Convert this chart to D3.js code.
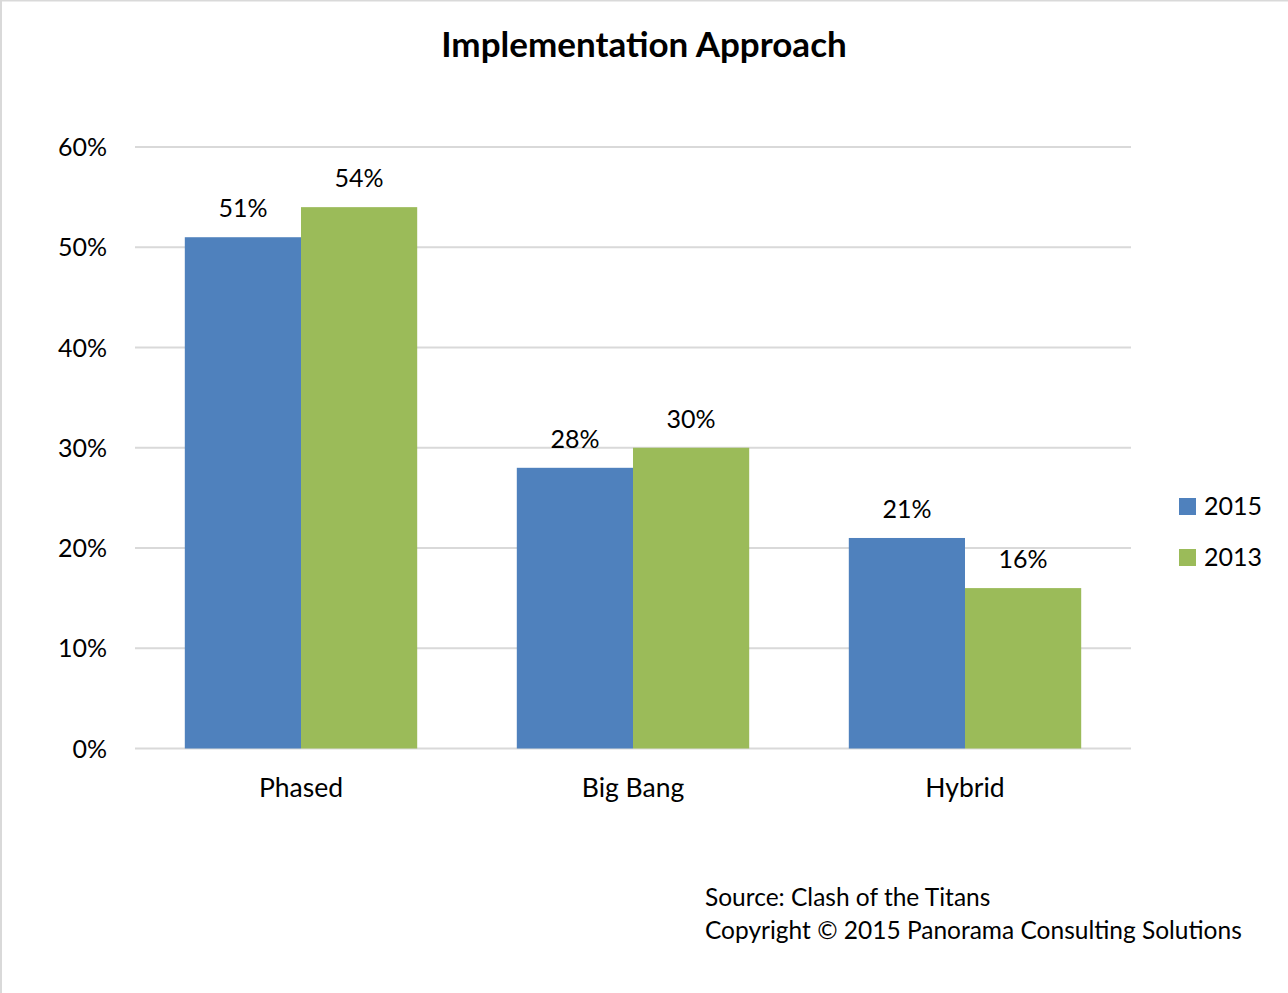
<!DOCTYPE html>
<html><head><meta charset="utf-8">
<script src="https://cdn.jsdelivr.net/npm/d3@7"></script>
<style>body{margin:0;background:#fff;}svg{display:block;}text{font-family:Lato,"Open Sans",sans-serif;fill:#000;}</style>
</head><body>
<script>
const categories = ["Phased", "Big Bang", "Hybrid"];
const seriesNames = ["2015", "2013"];
const values2015 = [0.51, 0.28, 0.21];
const values2013 = [0.54, 0.30, 0.16];
const yTicks = [0, 0.1, 0.2, 0.3, 0.4, 0.5, 0.6];
const colors = ["#4F81BD", "#9BBB59"];
const titleText = "Implementation Approach";
const sourceLines = ["Source: Clash of the Titans", "Copyright \u00A9 2015 Panorama Consulting Solutions"];

const W = 1288, H = 993;
const svg = d3.select("body").append("svg").attr("width", W).attr("height", H);

// frame lines
svg.append("line").attr("x1",0).attr("x2",W).attr("y1",0.5).attr("y2",0.5).attr("stroke","#d9d9d9").attr("stroke-width",2);
svg.append("line").attr("x1",1).attr("x2",1).attr("y1",0).attr("y2",H).attr("stroke","#d9d9d9").attr("stroke-width",2);

const x0 = d3.scaleBand().domain(categories).range([135, 1131]).paddingInner(0).paddingOuter(0);
const x1 = d3.scaleBand().domain(seriesNames).range([x0.bandwidth()*0.15, x0.bandwidth()*0.85]);
const y = d3.scaleLinear().domain([0, 0.6]).range([748.5, 147]);

// grid
svg.append("g").selectAll("line").data(yTicks).join("line")
  .attr("x1", 135).attr("x2", 1131)
  .attr("y1", d => y(d)).attr("y2", d => y(d))
  .attr("stroke", "#d9d9d9").attr("stroke-width", 2);

// y tick labels
svg.append("g").selectAll("text").data(yTicks).join("text")
  .attr("x", 107).attr("y", d => y(d) + 9)
  .attr("text-anchor", "end").attr("font-size", 25)
  .text(d => d3.format(".0%")(d));

const rows = categories.map((c, i) => ({cat: c, vals: [values2015[i], values2013[i]]}));
const groups = svg.append("g").selectAll("g").data(rows).join("g")
  .attr("transform", d => `translate(${x0(d.cat)},0)`);

groups.selectAll("rect").data(d => d.vals.map((v, k) => ({s: seriesNames[k], v, k}))).join("rect")
  .attr("x", d => x1(d.s)).attr("width", x1.bandwidth())
  .attr("y", d => y(d.v)).attr("height", d => y(0) - y(d.v))
  .attr("fill", d => colors[d.k]);

groups.selectAll("text.lbl").data(d => d.vals.map((v, k) => ({s: seriesNames[k], v, k}))).join("text")
  .attr("class", "lbl")
  .attr("x", d => x1(d.s) + x1.bandwidth()/2)
  .attr("y", d => y(d.v) - 20)
  .attr("text-anchor", "middle").attr("font-size", 25)
  .text(d => d3.format(".0%")(d.v));

// category labels
svg.append("g").selectAll("text").data(categories).join("text")
  .attr("x", d => x0(d) + x0.bandwidth()/2).attr("y", 797)
  .attr("text-anchor", "middle").attr("font-size", 26.5)
  .text(d => d);

// title
svg.append("text").attr("x", 644).attr("y", 57).attr("text-anchor", "middle")
  .attr("font-size", 35).attr("font-weight", "bold").text(titleText);

// legend
const leg = svg.append("g").selectAll("g").data(seriesNames).join("g")
  .attr("transform", (d, i) => `translate(1179,${498 + i*51})`);
leg.append("rect").attr("width", 17).attr("height", 17).attr("fill", (d, i) => colors[i]);
leg.append("text").attr("x", 25).attr("y", 17).attr("font-size", 25).text(d => d);

// source
svg.append("g").selectAll("text").data(sourceLines).join("text")
  .attr("x", 705).attr("y", (d, i) => 906 + i*33)
  .attr("font-size", 24.5).text(d => d);
</script>
</body></html>
